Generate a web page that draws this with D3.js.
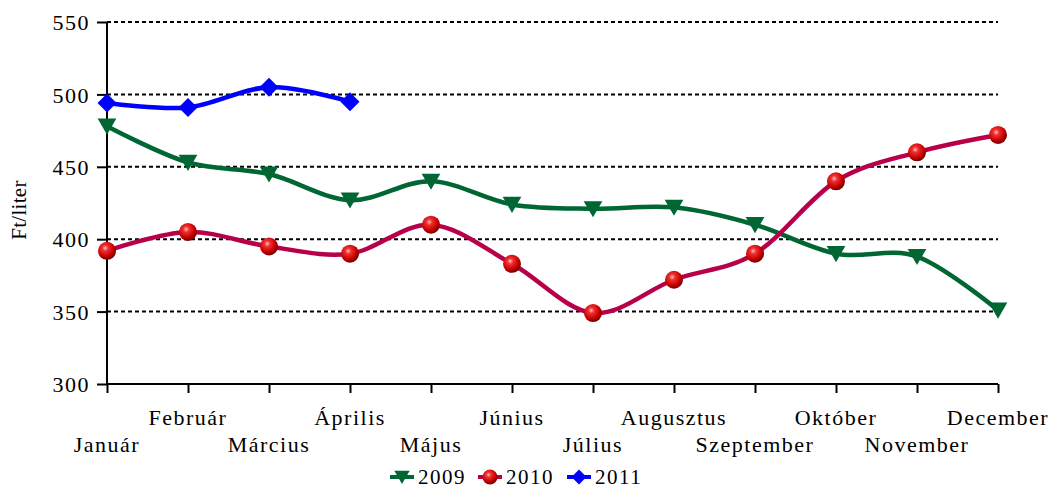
<!DOCTYPE html>
<html>
<head>
<meta charset="utf-8">
<script src="https://cdn.jsdelivr.net/npm/d3@7"></script>
<style>
  html, body { margin: 0; padding: 0; background: #fff; }
  svg { display: block; }
  text { font-family: "Liberation Serif", "Times New Roman", serif; fill: #000; }
</style>
</head>
<body>
<svg id="chart" width="1055" height="489"></svg>
<script>
const months = ["Január","Február","Március","Április","Május","Június","Július","Augusztus","Szeptember","Október","November","December"];
const values2009 = [478, 453, 445, 427, 440, 424, 421, 422, 410, 390, 388, 351];
const values2010 = [392, 405, 395, 390, 410, 383, 349, 372, 390, 440, 460, 472];
const values2011 = [494, 491, 505, 495];
const yTicks = [300, 350, 400, 450, 500, 550];
const seriesNames = ["2009", "2010", "2011"];

const svg = d3.select("#chart");
const pLeft = 107, pRight = 998, pTop = 22, pBottom = 384;

const x = d3.scalePoint().domain(months).range([pLeft, pRight]);
const y = d3.scaleLinear().domain([300, 550]).range([pBottom, pTop]);

// defs: ball gradient
const defs = svg.append("defs");
const grad = defs.append("radialGradient").attr("id", "ball").attr("cx", "40%").attr("cy", "35%").attr("r", "65%");
grad.append("stop").attr("offset", "0%").attr("stop-color", "#ffc0c0");
grad.append("stop").attr("offset", "25%").attr("stop-color", "#f03030");
grad.append("stop").attr("offset", "70%").attr("stop-color", "#c80000");
grad.append("stop").attr("offset", "100%").attr("stop-color", "#700000");

// x axis (drawn first so the dotted grid overlays it)
const xAxis = svg.append("g").attr("transform", `translate(0,${pBottom})`)
  .call(d3.axisBottom(x).tickSize(9).tickFormat(""));
xAxis.select(".domain").attr("stroke", "#000").attr("stroke-width", 2).attr("d", `M${pLeft},0H${pRight}`);
xAxis.selectAll(".tick line").attr("stroke", "#000").attr("stroke-width", 2);

// gridlines
svg.append("g").selectAll("line").data(yTicks.filter(d => d > 300)).join("line")
  .attr("x1", pLeft).attr("x2", pRight)
  .attr("y1", d => y(d)).attr("y2", d => y(d))
  .attr("stroke", "#000").attr("stroke-width", 2).attr("stroke-dasharray", "4,3");

// y axis
const yAxis = svg.append("g").attr("transform", `translate(${pLeft},0)`)
  .call(d3.axisLeft(y).tickValues(yTicks).tickSize(10).tickPadding(8));
yAxis.select(".domain").attr("stroke", "#000").attr("stroke-width", 2).attr("d", `M0,${pBottom}V${pTop}`);
yAxis.selectAll(".tick line").attr("stroke", "#000").attr("stroke-width", 2);
yAxis.selectAll(".tick text").attr("font-size", 22).attr("letter-spacing", "1.5px")
  .attr("font-family", "Liberation Serif").attr("fill", "#000").attr("dy", "0.35em").attr("x", -17);

svg.append("g").selectAll("text").data(months).join("text")
  .attr("x", d => x(d))
  .attr("y", (d, i) => i % 2 === 0 ? 452 : 425)
  .attr("text-anchor", "middle")
  .attr("font-size", 22).attr("letter-spacing", "1.5px")
  .text(d => d);

// y label
svg.append("text")
  .attr("transform", "translate(26,210) rotate(-90)")
  .attr("text-anchor", "middle")
  .attr("font-size", 21).attr("letter-spacing", "0.3px")
  .text("Ft/liter");

const line = d3.line().x(d => x(d.m)).y(d => y(d.v)).curve(d3.curveCatmullRom.alpha(0));
const toPts = arr => arr.map((v, i) => ({ m: months[i], v }));

const colors = { "2009": "#006633", "2010": "#b8004a", "2011": "#0000ff" };

function triangle(g, cx, cy, s) {
  g.append("path").attr("d", `M${cx - s * 0.55},${cy - s * 0.45}L${cx + s * 0.55},${cy - s * 0.45}L${cx},${cy + s * 0.5}Z`)
    .attr("fill", colors["2009"]);
}
function ball(g, cx, cy, r) {
  g.append("circle").attr("cx", cx).attr("cy", cy).attr("r", r).attr("fill", "url(#ball)");
}
function diamond(g, cx, cy, s) {
  g.append("path").attr("d", `M${cx},${cy - s / 2}L${cx + s / 2},${cy}L${cx},${cy + s / 2}L${cx - s / 2},${cy}Z`)
    .attr("fill", colors["2011"]);
}

const data = [values2009, values2010, values2011];
const markers = [
  (g, cx, cy) => triangle(g, cx, cy, 17),
  (g, cx, cy) => ball(g, cx, cy, 9),
  (g, cx, cy) => diamond(g, cx, cy, 19)
];

data.forEach((vals, si) => {
  const g = svg.append("g");
  g.append("path").attr("d", line(toPts(vals))).attr("fill", "none")
    .attr("stroke", colors[seriesNames[si]]).attr("stroke-width", 4.5).attr("stroke-linejoin", "round");
  toPts(vals).forEach(p => markers[si](g, x(p.m), y(p.v)));
});

// legend
const legendX = [390, 478, 567];
const lg = svg.append("g");
seriesNames.forEach((name, i) => {
  const lx = legendX[i];
  lg.append("line").attr("x1", lx).attr("x2", lx + 24).attr("y1", 477).attr("y2", 477)
    .attr("stroke", colors[name]).attr("stroke-width", 4);
  const s = i === 1 ? 0.8 : 0.85;
  if (i === 0) triangle(lg, lx + 12, 477, 14);
  if (i === 1) ball(lg, lx + 12, 477, 7.5);
  if (i === 2) diamond(lg, lx + 12, 477, 15);
  lg.append("text").attr("x", lx + 28).attr("y", 484).attr("font-size", 21).attr("letter-spacing", "1.5px").text(name);
});
</script>
</body>
</html>
